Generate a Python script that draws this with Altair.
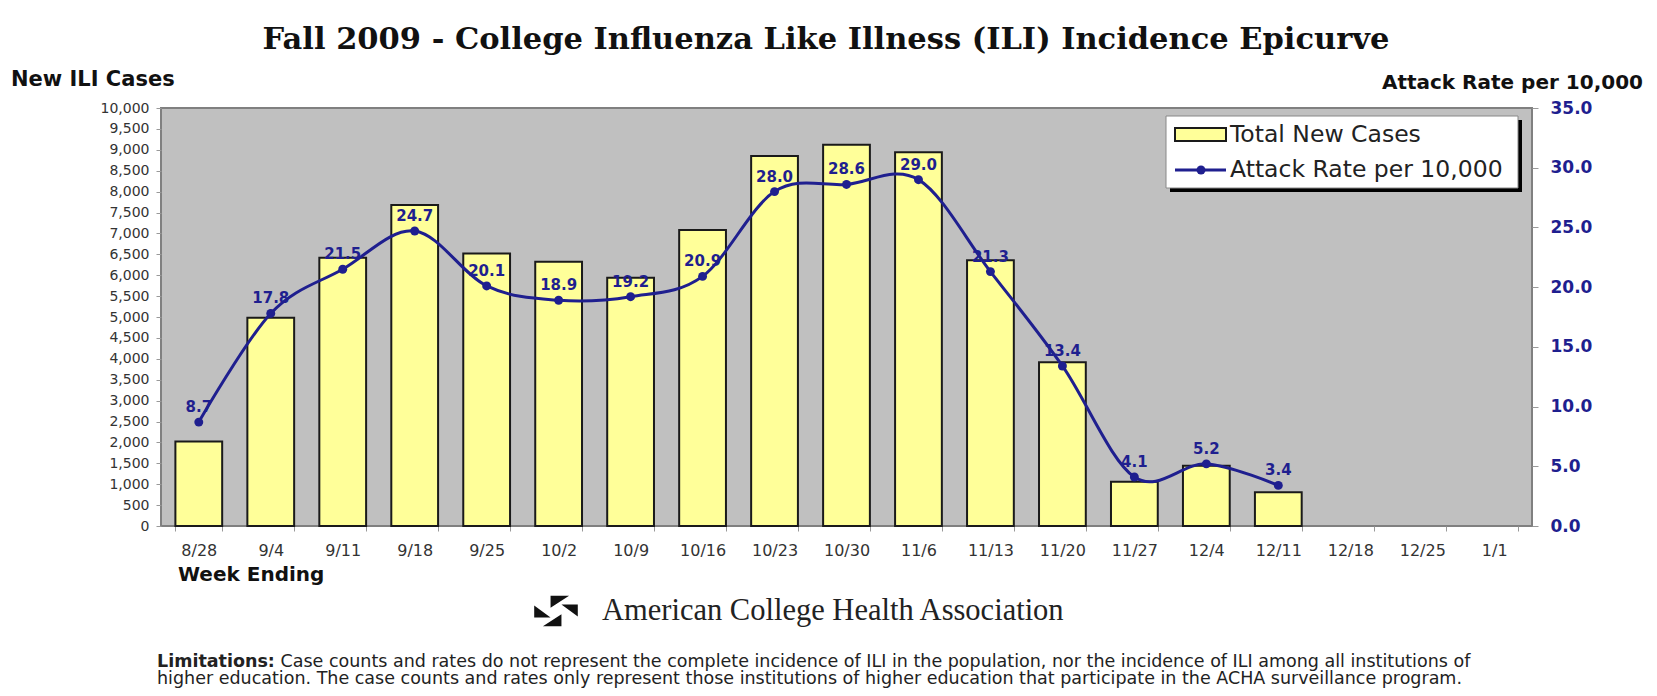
import altair as alt
import pandas as pd

# ---------------- data ----------------
weeks = ["8/28", "9/4", "9/11", "9/18", "9/25", "10/2", "10/9", "10/16", "10/23",
         "10/30", "11/6", "11/13", "11/20", "11/27", "12/4", "12/11", "12/18", "12/25", "1/1"]
bar_weeks = weeks[:16]
new_cases = [2020, 4980, 6420, 7680, 6520, 6320, 5940, 7080, 8850, 9120, 8940, 6360,
             3920, 1060, 1440, 810]
attack_rate = [8.7, 17.8, 21.5, 24.7, 20.1, 18.9, 19.2, 20.9, 28.0, 28.6, 29.0, 21.3,
               13.4, 4.1, 5.2, 3.4]
left_ticks = list(range(0, 10001, 500))
right_ticks = [0, 5, 10, 15, 20, 25, 30, 35]

title_text = "Fall 2009 - College Influenza Like Illness (ILI) Incidence Epicurve"
left_title = "New ILI Cases"
right_title = "Attack Rate per 10,000"
x_title = "Week Ending"
legend_labels = ["Total New Cases", "Attack Rate per 10,000"]
org_name = "American College Health Association"
note_bold = "Limitations:"
note_line1 = ("Case counts and rates do not represent the complete incidence of ILI in the "
              "population, nor the incidence of ILI among all institutions of")
note_line2 = ("higher education.  The case counts and rates only represent those institutions "
              "of higher education that participate in the ACHA surveillance program.")

NAVY = "#1F1F8F"
SANS = "DejaVu Sans"

df = pd.DataFrame({"week": bar_weeks, "cases": new_cases, "rate": attack_rate})
one = pd.DataFrame({"k": [0]})

x_scale = alt.Scale(domain=weeks, paddingInner=0.35, paddingOuter=0.2)
x_axis = alt.Axis(labelAngle=0, labelFont=SANS, labelFontSize=16, labelColor="#333333",
                  tickBand="extent", tickSize=5, tickColor="#999999",
                  labelPadding=11, domain=False, title=None)
x_enc = alt.X("week:N", sort=weeks, scale=x_scale, axis=x_axis, title=None)

left_axis = alt.Axis(values=left_ticks, format=",.0f", labelFont=SANS, labelFontSize=14,
                     labelColor="#333333", tickSize=5, tickColor="#999999",
                     labelPadding=7, domain=False, grid=False, title=None)
right_axis = alt.Axis(orient="right", values=right_ticks, format=".1f", labelFont=SANS,
                      labelFontSize=17, labelFontWeight="bold", labelColor=NAVY,
                      tickSize=6, tickColor="#999999", labelPadding=12,
                      domain=False, grid=False, title=None)

bars = alt.Chart(df).mark_bar(fill="#FFFF99", stroke="#1a1a1a", strokeWidth=2).encode(
    x=x_enc,
    y=alt.Y("cases:Q", scale=alt.Scale(domain=[0, 10000], nice=False), title=None,
            axis=left_axis),
)

y_rate = alt.Y("rate:Q", scale=alt.Scale(domain=[0, 35], nice=False), title=None,
               axis=right_axis)
line = alt.Chart(df).mark_line(color=NAVY, strokeWidth=3, interpolate="cardinal").encode(
    x=x_enc, y=y_rate)
pts = alt.Chart(df).mark_point(filled=True, size=80, color=NAVY, opacity=1).encode(
    x=x_enc, y=y_rate)
lbls = alt.Chart(df).mark_text(dy=-15, font=SANS, fontSize=15, fontWeight="bold",
                               color=NAVY).encode(
    x=x_enc, y=y_rate, text=alt.Text("rate:Q", format=".1f"))
rate_layer = alt.layer(line, pts, lbls)


def txt(s, x, y, **kw):
    return alt.Chart(pd.DataFrame({"t": [s]})).mark_text(**kw).encode(
        x=alt.value(x), y=alt.value(y), text="t:N")


def box(x, x2, y, y2, **kw):
    return alt.Chart(one).mark_rect(**kw).encode(
        x=alt.value(x), x2=alt.value(x2), y=alt.value(y), y2=alt.value(y2))


NOTE_SIZE = 17.5
deco = [
    txt(title_text, 665, -68, font="DejaVu Serif", fontSize=30.5, fontWeight="bold",
        color="#111111", align="center", baseline="middle"),
    txt(left_title, -150, -28, font=SANS, fontSize=21, fontWeight="bold",
        color="#111111", align="left", baseline="middle"),
    txt(right_title, 1482, -25, font=SANS, fontSize=20, fontWeight="bold",
        color="#111111", align="right", baseline="middle"),
    txt(x_title, 17, 467, font=SANS, fontSize=20, fontWeight="bold",
        color="#111111", align="left", baseline="middle"),
    # legend
    box(1009, 1361, 12, 84, fill="#000000"),
    box(1005, 1357, 8, 80, fill="#FFFFFF", stroke="#888888", strokeWidth=1),
    box(1014, 1065, 20, 33, fill="#FFFF99", stroke="#1a1a1a", strokeWidth=2),
    alt.Chart(one).mark_rule(color=NAVY, strokeWidth=3).encode(
        x=alt.value(1014), x2=alt.value(1065), y=alt.value(62)),
    alt.Chart(one).mark_point(filled=True, size=80, color=NAVY, opacity=1).encode(
        x=alt.value(1040), y=alt.value(62)),
    txt(legend_labels[0], 1069, 27, font=SANS, fontSize=23.5, color="#222222",
        align="left", baseline="middle"),
    txt(legend_labels[1], 1069, 62, font=SANS, fontSize=23.5, color="#222222",
        align="left", baseline="middle"),
    # organisation
    alt.Chart(one).mark_point(
        shape=("M -0.25 -0.7 L 0.6 -0.7 L -0.25 -0.15 Z "
               "M 1 -0.3 L 1 0.25 L 0.25 -0.3 Z "
               "M 0.25 0.7 L -0.6 0.7 L 0.25 0.15 Z "
               "M -1 0.3 L -1 -0.25 L -0.25 0.3 Z"),
        filled=True, size=1900, color="#111111", opacity=1).encode(
        x=alt.value(395), y=alt.value(503)),
    txt(org_name, 441, 503, font="Liberation Serif", fontSize=30.5, color="#222222",
        align="left", baseline="middle"),
    # limitations note
    txt(note_bold, -4, 554, font=SANS, fontSize=NOTE_SIZE, fontWeight="bold",
        color="#222222", align="left", baseline="middle"),
    txt(note_line1, 119.5, 554, font=SANS, fontSize=NOTE_SIZE, color="#222222",
        align="left", baseline="middle"),
    txt(note_line2, -4, 571, font=SANS, fontSize=NOTE_SIZE, color="#222222",
        align="left", baseline="middle"),
]

chart = alt.layer(bars, rate_layer, *deco).resolve_scale(y="independent").properties(
    width=1371, height=418,
    padding={"left": 153, "top": 100, "right": 117, "bottom": 162},
    autosize=alt.AutoSizeParams(type="none"),
    background="white",
).configure_view(fill="#C0C0C0", stroke="#808080", strokeWidth=2)

chart.save("out.html", embed_options={"renderer": "svg", "actions": False})
